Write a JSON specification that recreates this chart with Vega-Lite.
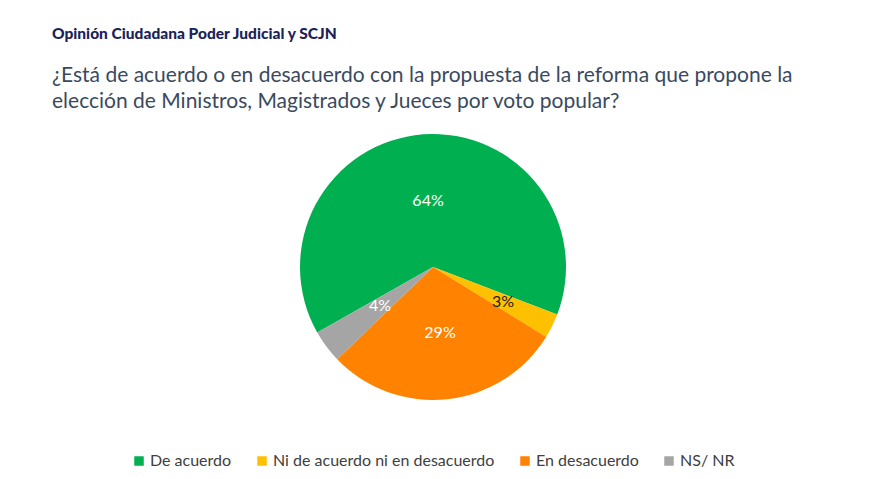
{
  "$schema": "https://vega.github.io/schema/vega-lite/v6.json",
  "width": 880,
  "height": 479,
  "autosize": {"type": "fit", "contains": "padding"},
  "padding": {"left": 52, "right": 66, "top": 26, "bottom": 10},
  "background": "#ffffff",
  "config": {"view": {"stroke": null}, "font": "Lato", "legend": {"layout": {"bottom": {"anchor": "middle"}}}},
  "title": {
    "text": "Opinión Ciudadana Poder Judicial y SCJN",
    "subtitle": ["¿Está de acuerdo o en desacuerdo con la propuesta de la reforma que propone la", "elección de Ministros, Magistrados y Jueces por voto popular?"],
    "anchor": "start",
    "frame": "group",
    "font": "Lato",
    "fontSize": 15.5,
    "fontWeight": 900,
    "color": "#1b2258",
    "subtitleFont": "Lato",
    "subtitleFontSize": 21,
    "subtitleColor": "#3a4a5e",
    "subtitleLineHeight": 26,
    "subtitlePadding": 23,
    "offset": 0
  },
  "data": {
    "values": [
      {"categoria": "De acuerdo", "valor": 64, "orden": 1, "etiqueta": "64%"},
      {"categoria": "Ni de acuerdo ni en desacuerdo", "valor": 3, "orden": 2, "etiqueta": "3%"},
      {"categoria": "En desacuerdo", "valor": 29, "orden": 3, "etiqueta": "29%"},
      {"categoria": "NS/ NR", "valor": 4, "orden": 4, "etiqueta": "4%"}
    ]
  },
  "encoding": {
    "theta": {"field": "valor", "type": "quantitative", "stack": true, "scale": {"range": [4.1975, 10.4807]}},
    "order": {"field": "orden", "type": "quantitative"}
  },
  "layer": [
    {
      "mark": {"type": "arc", "radius": 133},
      "encoding": {
        "color": {
          "field": "categoria",
          "type": "nominal",
          "sort": ["De acuerdo", "Ni de acuerdo ni en desacuerdo", "En desacuerdo", "NS/ NR"],
          "scale": {
            "domain": ["De acuerdo", "Ni de acuerdo ni en desacuerdo", "En desacuerdo", "NS/ NR"],
            "range": ["#00b050", "#ffc000", "#ff8200", "#a5a5a5"]
          },
          "legend": {
            "title": null,
            "orient": "bottom",
            "direction": "horizontal",
            "symbolType": "square",
            "symbolSize": 90,
            "symbolStrokeWidth": 0,
            "labelFont": "Lato",
            "labelFontSize": 16,
            "labelColor": "#404040",
            "labelLimit": 400,
            "columnPadding": 22,
            "symbolOffset": 0,
            "labelOffset": 3,
            "offset": 31
          }
        }
      }
    },
    {
      "mark": {"type": "text", "radius": 66, "fontSize": 16, "font": "Lato", "color": "#ffffff"},
      "encoding": {
        "text": {"field": "etiqueta"},
        "opacity": {"condition": {"test": "datum.orden == 2", "value": 0}, "value": 1}
      }
    },
    {
      "mark": {"type": "text", "radius": 78, "fontSize": 16, "font": "Lato", "color": "#1a1a1a"},
      "encoding": {
        "text": {"field": "etiqueta"},
        "opacity": {"condition": {"test": "datum.orden == 2", "value": 1}, "value": 0}
      }
    }
  ]
}
